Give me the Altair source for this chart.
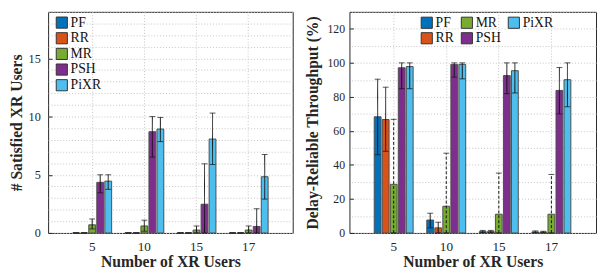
import altair as alt
import pandas as pd

users = ["5", "10", "15", "17"]
schemes = ["PF", "RR", "MR", "PSH", "PiXR"]
scheme_colors = ["#0072BD", "#D95319", "#77AC30", "#7E2F8E", "#4DBEEE"]

# Left panel: number of satisfied XR users (mean, lower, upper)
sat_pf = [0, 0, 0, 0]
sat_pf_lo = [0, 0, 0, 0]
sat_pf_hi = [0, 0, 0, 0]
sat_rr = [0, 0, 0, 0]
sat_rr_lo = [0, 0, 0, 0]
sat_rr_hi = [0, 0, 0, 0]
sat_mr = [0.7, 0.6, 0.25, 0.25]
sat_mr_lo = [0.35, 0.15, 0.0, 0.0]
sat_mr_hi = [1.2, 1.1, 0.6, 0.6]
sat_psh = [4.35, 8.7, 2.47, 0.56]
sat_psh_lo = [3.45, 6.52, 0.0, 0.0]
sat_psh_hi = [5.0, 10.0, 5.94, 2.08]
sat_pixr = [4.45, 8.93, 8.07, 4.83]
sat_pixr_lo = [3.75, 7.85, 5.88, 2.91]
sat_pixr_hi = [5.0, 9.93, 10.3, 6.74]

# Right panel: delay-reliable throughput (%)
thr_pf = [68.3, 7.6, 0.8, 0.6]
thr_pf_lo = [46.0, 3.0, 0.2, 0.1]
thr_pf_hi = [90.4, 11.6, 1.5, 1.2]
thr_rr = [66.7, 3.0, 0.8, 0.5]
thr_rr_lo = [48.0, 0.0, 0.2, 0.1]
thr_rr_hi = [85.7, 6.3, 1.5, 1.0]
thr_mr = [28.6, 15.7, 11.0, 11.0]
thr_mr_lo = [0.0, 0.0, 0.0, 0.0]
thr_mr_hi = [66.8, 46.9, 35.2, 34.4]
thr_psh = [97.1, 99.1, 92.5, 83.8]
thr_psh_lo = [84.8, 91.6, 81.9, 70.0]
thr_psh_hi = [100.0, 100.0, 100.0, 97.3]
thr_pixr = [97.8, 99.1, 95.4, 90.1]
thr_pixr_lo = [84.8, 90.6, 82.3, 74.2]
thr_pixr_hi = [100.0, 100.0, 100.0, 100.0]


def long_df(series):
    rows = []
    for s, (m, lo, hi) in zip(schemes, series):
        for i, u in enumerate(users):
            rows.append({"users": u, "scheme": s, "mean": m[i], "lo": lo[i], "hi": hi[i]})
    return pd.DataFrame(rows)


sat_df = long_df([
    (sat_pf, sat_pf_lo, sat_pf_hi),
    (sat_rr, sat_rr_lo, sat_rr_hi),
    (sat_mr, sat_mr_lo, sat_mr_hi),
    (sat_psh, sat_psh_lo, sat_psh_hi),
    (sat_pixr, sat_pixr_lo, sat_pixr_hi),
])
thr_df = long_df([
    (thr_pf, thr_pf_lo, thr_pf_hi),
    (thr_rr, thr_rr_lo, thr_rr_hi),
    (thr_mr, thr_mr_lo, thr_mr_hi),
    (thr_psh, thr_psh_lo, thr_psh_hi),
    (thr_pixr, thr_pixr_lo, thr_pixr_hi),
])

DARK = "#262626"
GRID = "#c4c4c4"
FONT = "Liberation Serif"


def panel(df, width, ymax, major, minor, ytitle, ylabsize, ylabpad, ytitlepad,
          legend, dash_mr):
    xsc = alt.Scale(domain=users, paddingInner=0, paddingOuter=0.345)
    ysc = alt.Scale(domain=[0, ymax], nice=False, zero=True)
    xoff = alt.XOffset("scheme:N", sort=schemes,
                       scale=alt.Scale(domain=schemes, paddingInner=0.15, paddingOuter=0.825))
    main_x = alt.Axis(title="Number of XR Users", labelAngle=0, bandPosition=0.5,
                      offset=-4, tickSize=4, tickColor=DARK, domain=False, grid=False,
                      labelPadding=7, titlePadding=1, labelFontSize=13.5,
                      titleFontSize=16, titleFontWeight="bold",
                      labelFont=FONT, titleFont=FONT,
                      labelColor=DARK, titleColor=DARK)
    main_y = alt.Axis(title=ytitle, values=major, offset=-4, tickSize=4, tickColor=DARK,
                      domain=False, grid=False, labelPadding=ylabpad, titlePadding=ytitlepad,
                      labelFontSize=ylabsize, titleFontSize=16, titleFontWeight="bold",
                      labelFont=FONT, titleFont=FONT,
                      labelColor=DARK, titleColor=DARK)
    grid_x = alt.Axis(orient="top", grid=True, gridDash=[1, 2], gridColor=GRID,
                      ticks=False, labels=False, domain=False, title=None, bandPosition=0.5)
    grid_y = alt.Axis(orient="right", values=list(range(0, ymax + 1, minor)), grid=True,
                      gridDash=[1, 2], gridColor=GRID, ticks=False, labels=False,
                      domain=False, title=None)

    bars = alt.Chart(df).mark_bar(stroke="#4d4d4d", strokeWidth=1).encode(
        x=alt.X("users:N", scale=xsc, axis=main_x),
        xOffset=xoff,
        y=alt.Y("mean:Q", scale=ysc, axis=main_y),
        color=alt.Color("scheme:N",
                        scale=alt.Scale(domain=schemes, range=scheme_colors),
                        legend=legend),
    )
    if dash_mr:
        dash = alt.condition(alt.datum.scheme == "MR", alt.value([3, 2]), alt.value([1, 0]))
    else:
        dash = alt.value([1, 0])
    rules = alt.Chart(df).mark_rule(color="#111111", strokeWidth=1).encode(
        x=alt.X("users:N", scale=xsc, axis=grid_x),
        xOffset=xoff,
        y=alt.Y("lo:Q", scale=ysc, axis=grid_y),
        y2="hi:Q",
        strokeDash=dash,
    )
    caps_hi = alt.Chart(df).mark_tick(color="#111111", thickness=1, size=6).encode(
        x=alt.X("users:N", scale=xsc, axis=None),
        xOffset=xoff,
        y=alt.Y("hi:Q", scale=ysc, axis=None),
    )
    caps_lo = alt.Chart(df).mark_tick(color="#111111", thickness=1, size=6).encode(
        x=alt.X("users:N", scale=xsc, axis=None),
        xOffset=xoff,
        y=alt.Y("lo:Q", scale=ysc, axis=None),
    )
    return alt.layer(bars, rules, caps_hi, caps_lo).resolve_axis(
        x="independent", y="independent"
    ).properties(width=width, height=226)


left_legend = alt.Legend(orient="none", legendX=7, legendY=4, title=None,
                         symbolType="square", symbolSize=130, symbolStrokeColor="#333333",
                         symbolStrokeWidth=1, labelFontSize=14, labelColor="#111111",
                         labelFont=FONT, rowPadding=0, labelOffset=2, padding=0)
right_legend = alt.Legend(orient="none", legendX=72, legendY=4, title=None, columns=3,
                          columnPadding=5, symbolType="square", symbolSize=130,
                          symbolStrokeColor="#333333", symbolStrokeWidth=1,
                          labelFontSize=14, labelColor="#111111", labelFont=FONT,
                          rowPadding=0, labelOffset=2, padding=0)

left = panel(sat_df, 250, 19, [0, 5, 10, 15], 1, "# Satisfied XR Users", 12.5, 8, 4,
             left_legend, False)
right = panel(thr_df, 252, 130, [0, 20, 40, 60, 80, 100, 120], 10,
              "Delay-Reliable Throughput (%)", 12, 5, 7,
              right_legend, True)

chart = alt.hconcat(left, right, spacing=10).resolve_scale(
    color="independent"
).resolve_legend(color="independent").properties(padding=0).configure(
    font=FONT
).configure_view(stroke=DARK, strokeWidth=1)

chart.save("out.html", embed_options={"renderer": "svg", "actions": False})
